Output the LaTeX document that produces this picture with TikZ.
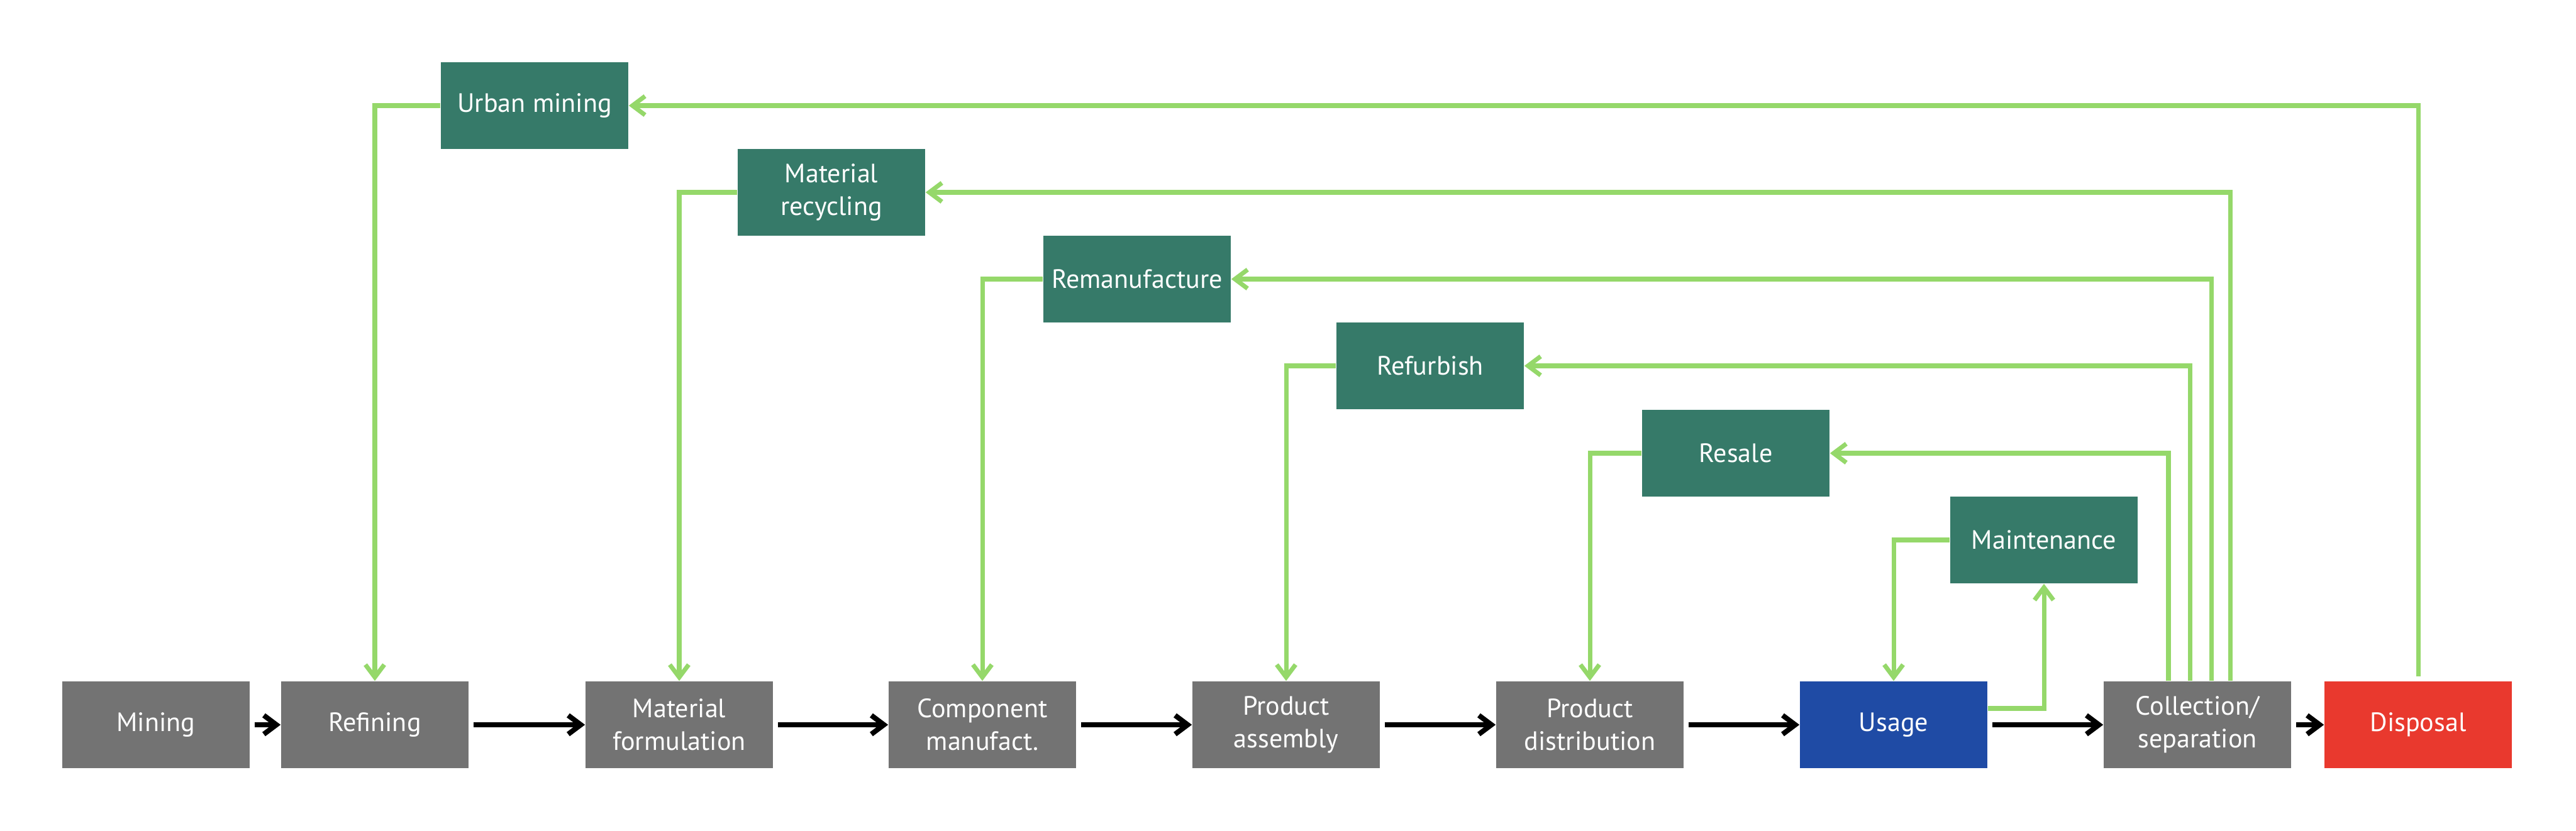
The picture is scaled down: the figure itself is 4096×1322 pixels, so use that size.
\documentclass[tikz,border=0pt]{standalone}
\usepackage{fontspec}
\setmainfont{PT Sans}
\usetikzlibrary{arrows.meta}
\definecolor{stagegray}{HTML}{737373}
\definecolor{loopgreen}{HTML}{367A69}
\definecolor{usageblue}{HTML}{1F4BA5}
\definecolor{disposalred}{HTML}{E9392E}
\definecolor{linegreen}{HTML}{95D86A}
\tikzset{
	stage/.style={fill=stagegray, text=white, minimum width=2.98cm, minimum height=1.38cm,
		inner sep=0pt, align=center, font=\fontsize{12}{14.8}\selectfont},
	loopstage/.style={stage, fill=loopgreen},
	flow/.style={line width=2.3pt, -{Straight Barb[length=2mm,width=3mm]}},
	backflow/.style={draw=linegreen, line width=2pt, -{Straight Barb[length=2mm,width=3mm]}}
}

\begin{document}
\begin{tikzpicture}[x=0.01cm, y=-0.01cm]
		\useasboundingbox (0,0) rectangle (4096,1322);
		% main chain
		\node[stage](mining) at(248,1153){Mining};
		\node[stage](refining) at(596,1153){Refining};
		\node[stage](formulation) at(1080,1153){Material\\formulation};
		\node[stage](component) at(1562,1153){Component\\manufact.};
		\node[stage](assembly) at(2045,1153){Product\\assembly};
		\node[stage](distribution) at(2528,1153){Product\\distribution};
		\node[stage, fill=usageblue](usage) at(3011,1153){Usage};
		\node[stage](collection) at(3494,1153){Collection/\\separation};
		\node[stage, fill=disposalred](disposal) at(3845,1153){Disposal};
		% loops
		\node[loopstage](urban) at(850,168){Urban mining};
		\node[loopstage](recycling) at(1322,306){Material\\recycling};
		\node[loopstage](reman) at(1808,444){Remanufacture};
		\node[loopstage](refurb) at(2274,582){Refurbish};
		\node[loopstage](resale) at(2760,721){Resale};
		\node[loopstage](maint) at(3250,859){Maintenance};
		% forward arrows
		\draw[flow, shorten <=2pt](mining)--(refining);
		\draw[flow, shorten <=2pt](refining)--(formulation);
		\draw[flow, shorten <=2pt](formulation)--(component);
		\draw[flow, shorten <=2pt](component)--(assembly);
		\draw[flow, shorten <=2pt](assembly)--(distribution);
		\draw[flow, shorten <=2pt](distribution)--(usage);
		\draw[flow, shorten <=2pt](usage)--(collection);
		\draw[flow, shorten <=2pt](collection)--(disposal);
		% return flows
		\draw[backflow](urban.west)-|(refining.north);
		\draw[backflow](recycling.west)-|(formulation.north);
		\draw[backflow](reman.west)-|(component.north);
		\draw[backflow](refurb.west)-|(assembly.north);
		\draw[backflow](resale.west)-|(distribution.north);
		\draw[backflow](maint.west)-|(usage.north);
		\draw[backflow]([yshift=0.26cm]usage.east)-|(maint.south);
		\draw[backflow]([xshift=-0.46cm]collection.north)|-(resale.east);
		\draw[backflow]([xshift=-0.12cm]collection.north)|-(refurb.east);
		\draw[backflow]([xshift=0.22cm]collection.north)|-(reman.east);
		\draw[backflow]([xshift=0.52cm]collection.north)|-(recycling.east);
		\draw[backflow, shorten <=2pt](disposal.north)|-(urban.east);
	\end{tikzpicture}
\end{document}
